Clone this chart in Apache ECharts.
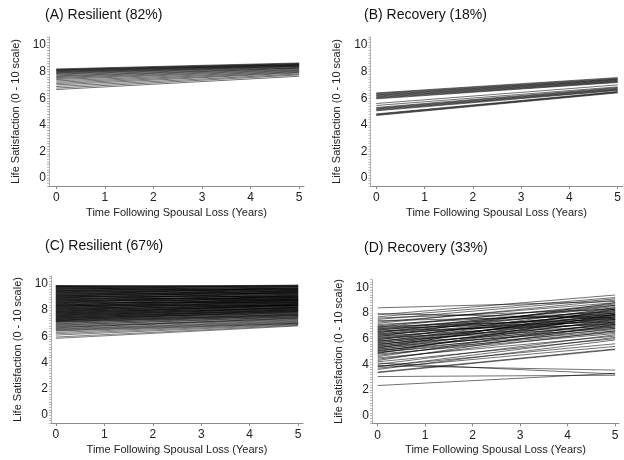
<!DOCTYPE html>
<html>
<head>
    <meta charset="utf-8">
    <title>Life satisfaction trajectories</title>
    <script src="https://cdn.jsdelivr.net/npm/echarts@6/dist/echarts.min.js"></script>
</head>
<body style="margin:0;background:#fff;">
<div id="main" style="width: 624px;height:460px;"></div>
<script type="text/javascript">
    // endpoints of every trajectory: value at year 0 and at year 5
    var lineYears = [0, 5];
    var xTicks = [0, 1, 2, 3, 4, 5];
    var yTicks = [0, 2, 4, 6, 8, 10];
    var panelTitles = ['(A) Resilient (82%)', '(B) Recovery (18%)', '(C) Resilient (67%)', '(D) Recovery (33%)'];

    var aStart = [8.20,8.16,8.13,8.10,8.07,8.03,7.99,7.95,7.91,7.86,7.81,7.75,7.68,7.62,7.55,7.48,7.40,7.30,7.20,7.10,7.00,6.88,6.76,6.65];
    var aEnd   = [8.65,8.61,8.58,8.55,8.52,8.50,8.48,8.45,8.42,8.40,8.36,8.32,8.28,8.25,8.20,8.15,8.10,8.05,8.00,7.95,7.90,7.82,7.75,7.65];

    var bStart = [6.40,6.35,6.30,6.25,6.20,6.15,6.10,6.05,6.00,5.95,5.60,5.45,5.30,5.25,5.20,5.15,5.10,5.05,4.82,4.78,4.74,4.70];
    var bEnd   = [7.55,7.50,7.45,7.42,7.38,7.34,7.30,7.26,7.22,7.18,7.00,6.85,6.80,6.75,6.70,6.66,6.62,6.58,6.50,6.47,6.44,6.40];

    var cStart = [9.90,9.88,9.85,9.82,9.80,9.78,9.75,9.72,9.70,9.68,
                  9.65,9.62,9.60,9.58,9.55,9.52,9.50,9.48,9.45,9.42,
                  9.40,9.38,9.35,9.32,9.30,9.28,9.25,9.22,9.20,9.18,
                  9.15,9.12,9.10,9.08,9.05,9.02,9.00,8.98,8.95,8.92,
                  8.90,8.88,8.85,8.82,8.80,8.78,8.75,8.72,8.70,8.68,
                  8.65,8.62,8.60,8.58,8.55,8.52,8.50,8.48,8.45,8.42,
                  8.40,8.38,8.35,8.32,8.30,8.28,8.25,8.22,8.20,8.18,
                  8.15,8.12,8.10,8.08,8.05,8.02,8.00,7.98,7.95,7.92,
                  7.90,7.88,7.85,7.82,7.80,7.78,7.75,7.72,7.70,7.68,
                  7.65,7.62,7.60,7.58,7.55,7.52,7.50,7.48,7.45,7.42,
                  7.40,7.38,7.35,7.32,7.30,7.28,7.25,7.22,7.20,7.18,
                  7.15,7.12,7.10,7.05,7.00,6.95,6.90,6.85,6.80,6.75,
                  6.70,6.65,6.60,6.55,6.50,6.45,6.40,6.30,6.20,6.10,5.95,5.85];
    var cEnd   = [9.90,9.70,9.85,9.60,9.90,9.50,9.80,9.40,9.85,9.65,
                  9.30,9.75,9.55,9.90,9.20,9.60,9.45,9.80,9.10,9.70,
                  9.35,9.55,9.00,9.65,9.25,9.50,8.95,9.40,9.70,9.15,
                  8.90,9.45,9.30,8.80,9.60,9.05,9.35,8.75,9.20,9.50,
                  8.85,9.10,8.70,9.30,9.00,8.60,9.40,8.95,8.80,9.15,
                  8.55,9.05,8.90,8.50,9.25,8.75,8.65,9.00,8.45,8.85,
                  8.70,8.40,9.10,8.60,8.80,8.35,8.95,8.55,8.70,8.30,
                  8.85,8.50,8.25,8.65,8.40,8.20,8.75,8.45,8.15,8.60,
                  8.35,8.10,8.50,8.30,8.05,8.40,8.20,8.00,8.45,8.15,
                  7.95,8.35,8.10,7.90,8.25,8.00,7.85,8.20,7.95,7.80,
                  8.10,7.75,7.90,8.05,7.70,7.85,7.65,7.95,7.60,7.80,
                  7.55,7.70,7.50,7.65,7.45,7.60,7.40,7.50,7.35,7.30,
                  7.25,7.40,7.20,7.15,7.10,7.05,7.00,7.00,6.95,6.90,6.85,6.80];

    var dStart = [8.40,7.95,7.85,7.70,7.60,7.50,7.40,7.30,7.20,7.10,
                  7.00,6.95,6.90,6.85,6.80,6.75,6.70,6.65,6.60,6.55,
                  6.50,6.45,6.40,6.35,6.30,6.25,6.20,6.15,6.10,6.05,
                  6.00,5.95,5.90,5.85,5.80,5.75,5.70,5.65,5.60,5.55,
                  5.50,5.45,5.40,5.35,5.30,5.25,5.20,5.15,5.10,5.05,
                  5.00,4.95,4.90,4.85,4.80,4.70,4.60,4.50,4.40,4.30,
                  4.20,4.10,4.00,3.90,3.85,3.80,3.70,3.60,3.40,3.35,
                  3.05,2.35];
    var dEnd   = [8.90,7.60,9.40,9.20,8.30,9.10,7.80,8.80,9.00,8.10,
                  8.60,7.50,8.70,8.00,7.30,8.40,7.70,8.50,7.10,8.20,
                  7.90,8.60,7.40,8.30,7.60,8.00,7.20,8.80,7.80,7.00,
                  8.10,7.50,8.40,6.90,7.70,8.20,7.30,7.90,6.80,7.60,
                  8.00,7.10,7.80,6.70,7.40,8.30,6.90,7.70,6.60,7.20,
                  7.50,6.50,7.00,7.90,6.40,6.80,7.30,6.20,6.60,7.10,
                  6.00,3.25,6.30,3.55,5.60,6.10,5.40,5.90,5.20,5.15,
                  3.15,3.30];

    var panels = [
        {start: aStart, end: aEnd, grid: {left: 49, top: 37, width: 255, height: 149}, xMin: -0.15, xMax: 5.1, title: {left: 40, top: 3}, lw: 0.8, op: 0.7},
        {start: bStart, end: bEnd, grid: {left: 370.5, top: 37, width: 254, height: 149}, xMin: -0.12, xMax: 5.1, title: {left: 359, top: 3}, lw: 0.8, op: 0.7},
        {start: cStart, end: cEnd, grid: {left: 51, top: 276, width: 252, height: 147}, xMin: -0.1, xMax: 5.1, title: {left: 40, top: 234}, lw: 0.7, op: 0.72},
        {start: dStart, end: dEnd, grid: {left: 372, top: 279.6, width: 247, height: 143.8}, xMin: -0.12, xMax: 5.08, title: {left: 359, top: 236}, lw: 0.8, op: 0.7}
    ];

    var font = 'Liberation Sans, Arial, sans-serif';
    var axisGray = '#8c8c8c';

    var option = {
        backgroundColor: '#fff',
        animation: false,
        title: [], grid: [], xAxis: [], yAxis: [], series: []
    };

    panels.forEach(function (p, k) {
        option.title.push({
            text: panelTitles[k], left: p.title.left, top: p.title.top,
            textStyle: {fontFamily: font, fontSize: 14, fontWeight: 'normal', color: '#111'}
        });
        option.grid.push(p.grid);
        option.xAxis.push({
            type: 'value', gridIndex: k, min: p.xMin, max: p.xMax,
            name: 'Time Following Spousal Loss (Years)', nameLocation: 'middle', nameGap: 21,
            nameTextStyle: {fontFamily: font, fontSize: 11, color: '#222'},
            axisLine: {onZero: false, lineStyle: {color: axisGray, width: 1}},
            axisTick: {show: true, length: 3, customValues: xTicks, lineStyle: {color: axisGray}},
            axisLabel: {customValues: xTicks, margin: 6, fontFamily: font, fontSize: 12, color: '#222'},
            splitLine: {show: false}
        });
        option.yAxis.push({
            type: 'value', gridIndex: k, min: -0.6, max: 10.6, interval: 0.2,
            name: 'Life Satisfaction (0 - 10 scale)', nameLocation: 'middle', nameGap: 28,
            nameTextStyle: {fontFamily: font, fontSize: 11, color: '#222'},
            axisLine: {show: true, onZero: false, lineStyle: {color: '#b0b0b0', width: 1}},
            axisTick: {show: true, length: 2, lineStyle: {color: '#b8b8b8'}},
            axisLabel: {customValues: yTicks, margin: 3, fontFamily: font, fontSize: 12, color: '#222'},
            splitLine: {show: false}
        });
        option.series.push({
            type: 'lines', coordinateSystem: 'cartesian2d', xAxisIndex: k, yAxisIndex: k,
            silent: true,
            lineStyle: {color: '#000', width: p.lw, opacity: p.op},
            data: p.start.map(function (s, i) {
                return {coords: [[lineYears[0], s], [lineYears[1], p.end[i]]]};
            })
        });
    });

    var myChart = echarts.init(document.getElementById('main'));
    myChart.setOption(option);
</script>
</body>
</html>
